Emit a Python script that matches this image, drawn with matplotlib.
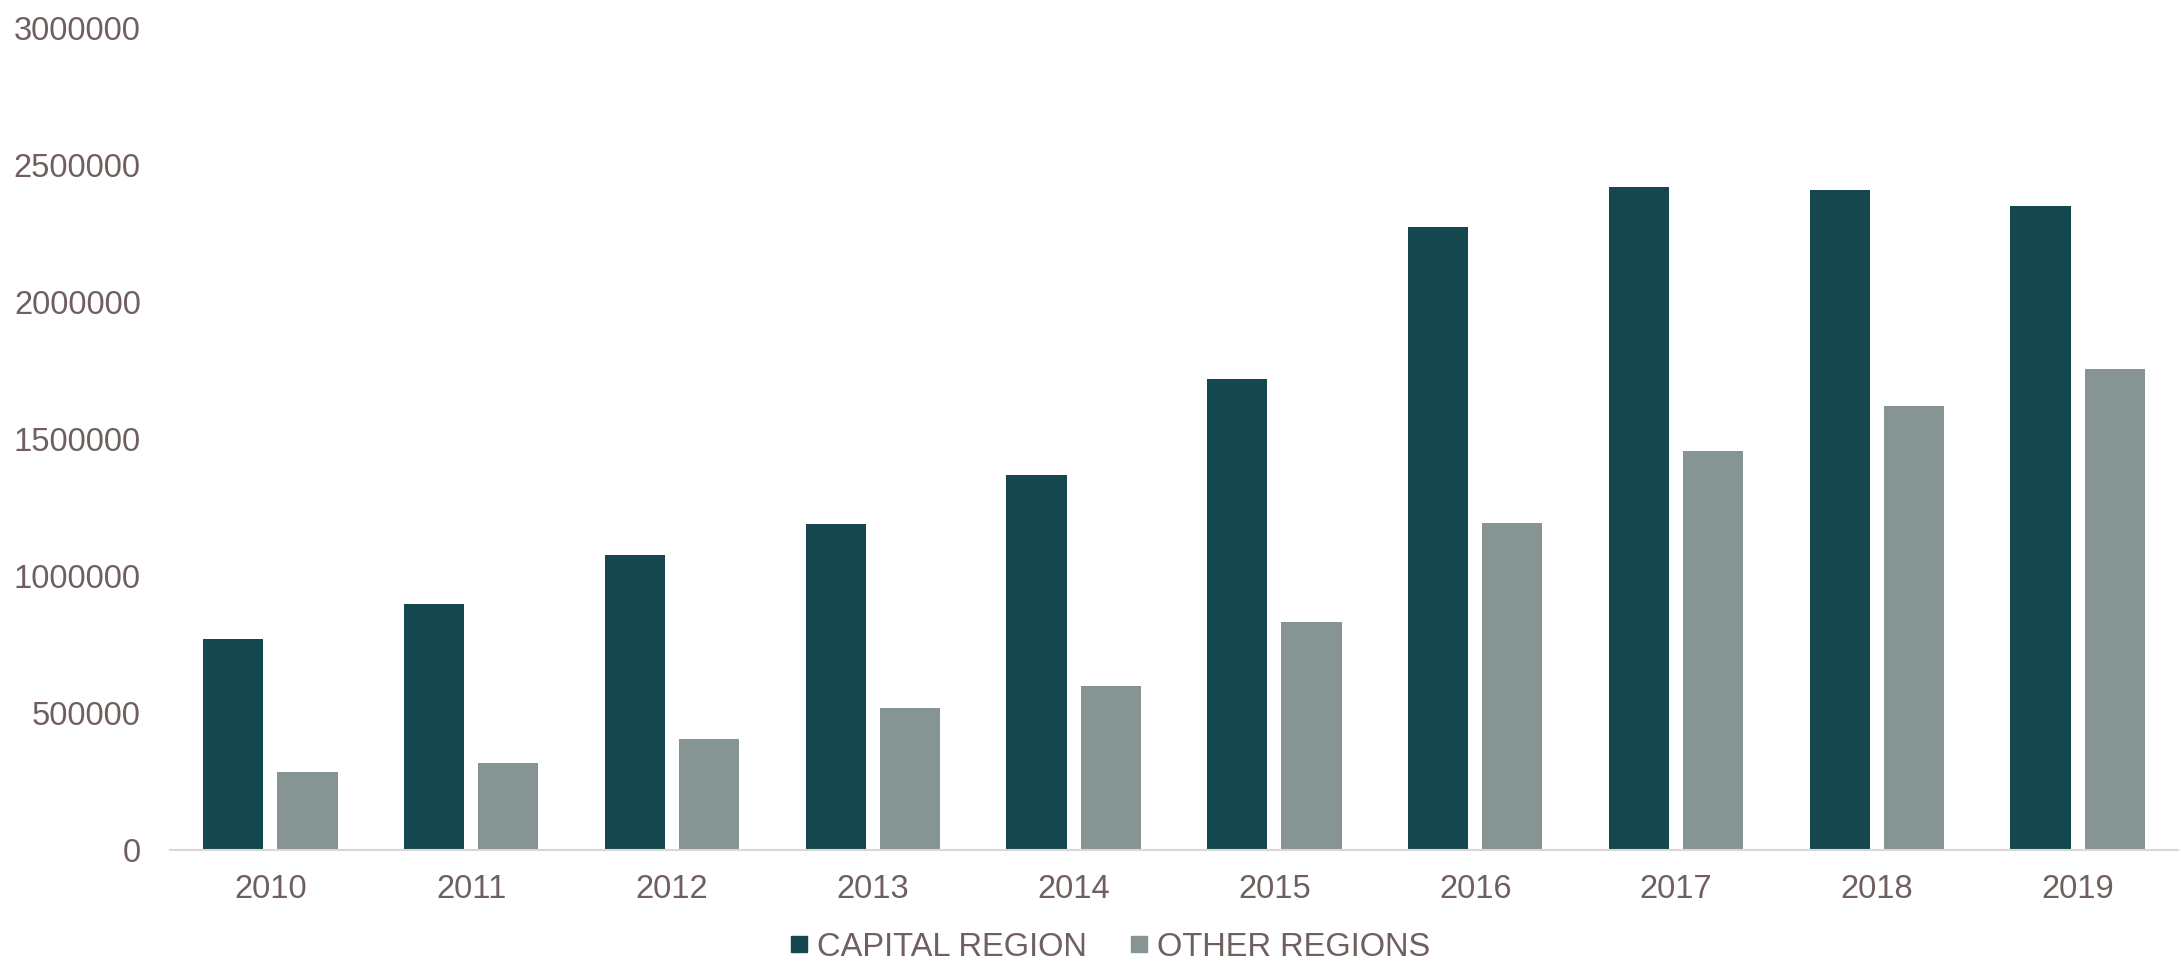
import numpy as np
import matplotlib.pyplot as plt
from matplotlib.lines import Line2D

years = ["2010", "2011", "2012", "2013", "2014", "2015", "2016", "2017", "2018", "2019"]
capital = [770000, 898000, 1075000, 1188000, 1370000, 1720000, 2275000, 2420000, 2410000, 2350000]
other = [285000, 318000, 405000, 517000, 598000, 831000, 1192000, 1455000, 1620000, 1755000]
yticks = [0, 500000, 1000000, 1500000, 2000000, 2500000, 3000000]

C_CAP = "#15484e"
C_OTH = "#879494"
TXT = "#6f5f5e"
FS = 23.5

plt.rcParams['font.family'] = ['Liberation Sans', 'DejaVu Sans']

fig = plt.figure(figsize=(21.81, 9.64), dpi=100)
ax = fig.add_axes([170/2181, 1 - 850/964, (2178-170)/2181, (850-28)/964])

x = np.arange(len(years))
w = 0.3
ax.bar(x - 0.185, capital, width=w, color=C_CAP, zorder=2)
ax.bar(x + 0.185, other, width=w, color=C_OTH, zorder=2)

ax.set_xlim(-0.5, len(years) - 0.5)
ax.set_ylim(0, 3000000)
ax.set_yticks(yticks)
ax.set_yticklabels([str(v) for v in yticks])
ax.set_xticks(x)
ax.set_xticklabels(years)
ax.tick_params(axis='both', length=0, labelsize=FS, colors=TXT)
ax.tick_params(axis='y', pad=21)
ax.tick_params(axis='x', pad=17)

for s in ['top', 'right', 'left']:
    ax.spines[s].set_visible(False)
ax.spines['bottom'].set_color("#ddd6d6")
ax.spines['bottom'].set_linewidth(1.5)

handles = [Line2D([], [], marker='s', linestyle='none', markersize=11, color=C_CAP),
           Line2D([], [], marker='s', linestyle='none', markersize=11, color=C_OTH)]
fig.legend(handles, ["CAPITAL REGION", "OTHER REGIONS"], loc='center',
           bbox_to_anchor=(1110/2181, 17/964), ncol=2, frameon=False,
           fontsize=FS, labelcolor=TXT, handlelength=0.6, handletextpad=0.25,
           columnspacing=1.3, borderpad=0)

fig.savefig("out.png", dpi=100)
